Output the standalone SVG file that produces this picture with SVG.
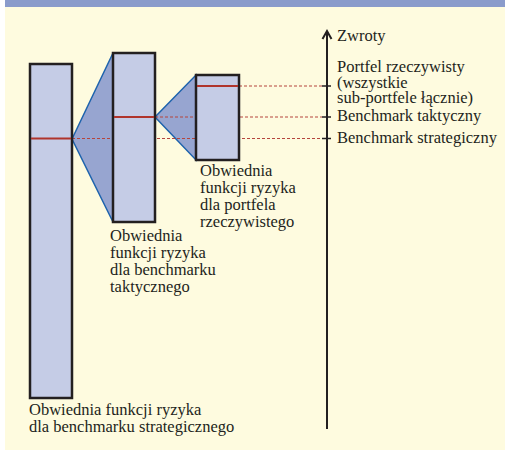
<svg xmlns="http://www.w3.org/2000/svg" width="505" height="450" viewBox="0 0 505 450">
<defs>
<style>
.box{fill:#c5cce6;stroke:#231f20;stroke-width:2.5}
.fan{fill:#97a5d0;stroke:#1e63ad;stroke-width:1.5;stroke-linejoin:miter}
.lvl{stroke:#b0342c;stroke-width:2}
.dash{stroke:#b5453d;stroke-width:1;stroke-dasharray:3 2;fill:none}
.tick{stroke:#231f20;stroke-width:1.5}
.lbl{font-size:16.5px;fill:#231f20}
</style>
</defs>
<rect x="0" y="0" width="505" height="450" fill="#ffffff"/>
<rect x="5" y="0" width="500" height="450" fill="#fefbdf"/>
<rect x="5" y="0" width="500" height="7" fill="#8a9bcb"/>
<g id="connectors">
<polygon class="fan" points="72,139 113,53 113,222"/>
<polygon class="fan" points="155,117 196,75 196,160"/>
<line class="dash" x1="72" y1="138.5" x2="322" y2="138.5"/>
<line class="dash" x1="155" y1="117" x2="322" y2="117"/>
<line class="dash" x1="239" y1="86" x2="322" y2="86"/>
</g>
<g font-family="'Liberation Serif', 'Times New Roman', 'DejaVu Serif', serif">
<g id="strategic">
<rect class="box" x="30" y="64" width="42" height="334"/>
<line class="lvl" x1="31" y1="138.5" x2="71" y2="138.5"/>
<text class="lbl" x="29" y="415">Obwiednia funkcji ryzyka</text>
<text class="lbl" x="29" y="432">dla benchmarku strategicznego</text>
</g>
<g id="tactical">
<rect class="box" x="113" y="53" width="42" height="169"/>
<line class="lvl" x1="114" y1="117" x2="154" y2="117"/>
<text class="lbl" x="110" y="241">Obwiednia</text>
<text class="lbl" x="110" y="258">funkcji ryzyka</text>
<text class="lbl" x="110" y="275">dla benchmarku</text>
<text class="lbl" x="110" y="292">taktycznego</text>
</g>
<g id="portfolio">
<rect class="box" x="196" y="75" width="43" height="85"/>
<line class="lvl" x1="197" y1="86" x2="238" y2="86"/>
<text class="lbl" x="200" y="176">Obwiednia</text>
<text class="lbl" x="200" y="193">funkcji ryzyka</text>
<text class="lbl" x="200" y="210">dla portfela</text>
<text class="lbl" x="200" y="227">rzeczywistego</text>
</g>
<g id="axis">
<line x1="327" y1="31" x2="327" y2="429" stroke="#231f20" stroke-width="2"/>
<polyline points="322.5,39 327,31 331.5,39" fill="none" stroke="#231f20" stroke-width="2"/>
<line class="tick" x1="322" y1="86" x2="331" y2="86"/>
<line class="tick" x1="322" y1="117" x2="331" y2="117"/>
<line class="tick" x1="322" y1="138.5" x2="331" y2="138.5"/>
<text class="lbl" x="337" y="40.5">Zwroty</text>
<text class="lbl" x="337" y="71.5">Portfel rzeczywisty</text>
<text class="lbl" x="337" y="87.5">(wszystkie</text>
<text class="lbl" x="337" y="103">sub-portfele łącznie)</text>
<text class="lbl" x="337" y="121">Benchmark taktyczny</text>
<text class="lbl" x="337" y="143">Benchmark strategiczny</text>
</g>
</g>
</svg>
